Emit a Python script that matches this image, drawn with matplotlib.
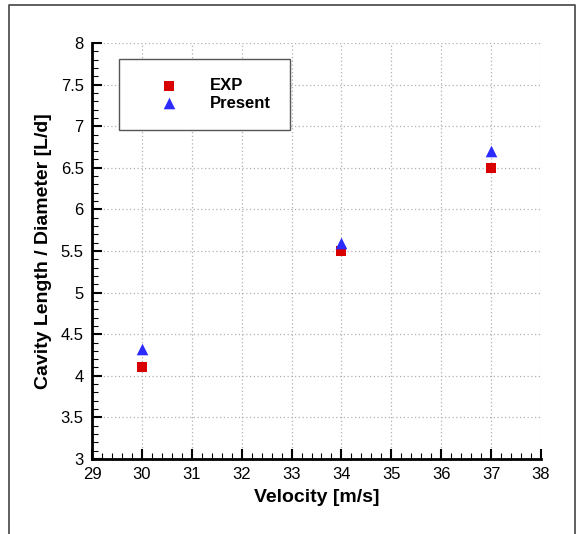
import matplotlib
matplotlib.use("Agg")
import matplotlib.pyplot as plt
from matplotlib.lines import Line2D
from matplotlib.ticker import MultipleLocator

plt.rcParams['font.family'] = ['Liberation Sans', 'DejaVu Sans']

velocity = [30, 34, 37]
exp_ld = [4.1, 5.5, 6.5]
present_ld = [4.32, 5.6, 6.7]

fig = plt.figure(figsize=(5.81, 5.34), dpi=100)
ax = fig.add_axes([92/581, 1-459/534, (541-92)/581, (459-43)/534])

ax.scatter(velocity, exp_ld, marker='s', s=55, color='#d90000', label='EXP', zorder=3, linewidths=0)
ax.scatter(velocity, present_ld, marker='^', s=70, color='#2b2bff', label='Present', zorder=3, linewidths=0)

ax.set_xlim(29, 38)
ax.set_ylim(3, 8)
ax.xaxis.set_major_locator(MultipleLocator(1))
ax.xaxis.set_minor_locator(MultipleLocator(0.2))
ax.yaxis.set_major_locator(MultipleLocator(0.5))
ax.yaxis.set_minor_locator(MultipleLocator(0.1))
ax.tick_params(which='major', direction='in', length=7, width=1.5, labelsize=12, pad=6)
ax.tick_params(which='minor', direction='in', length=4, width=0.8)
ax.yaxis.set_major_formatter(matplotlib.ticker.FuncFormatter(lambda v, p: ('%g' % v)))

for s in ['top', 'right']:
    ax.spines[s].set_visible(False)
for s in ['left', 'bottom']:
    ax.spines[s].set_linewidth(2)

ax.grid(True, which='major', linestyle=(0, (1, 2)), color='#b0b0b0', linewidth=0.9)
ax.set_axisbelow(True)

ax.set_xlabel('Velocity [m/s]', fontsize=14, fontweight='bold', labelpad=5)
ax.set_ylabel('Cavity Length / Diameter [L/d]', fontsize=14, fontweight='bold', labelpad=6)

leg = ax.legend(loc='upper left', bbox_to_anchor=((119-92)/449, (459-59)/416), frameon=True,
                fancybox=False, edgecolor='#555555', framealpha=1,
                prop={'weight': 'bold', 'size': 12}, handletextpad=0.6,
                borderpad=1.15, labelspacing=0.15, handlelength=3.7, markerfirst=True,
                borderaxespad=0)
leg.get_frame().set_linewidth(1.0)

# outer frame (left, top, right)
fig.add_artist(Line2D([9/581, 9/581, 575/581, 575/581], [0, 1-5/534, 1-5/534, 0],
                      transform=fig.transFigure, color='#444444', linewidth=1.2))

fig.savefig('out.png', dpi=100)
